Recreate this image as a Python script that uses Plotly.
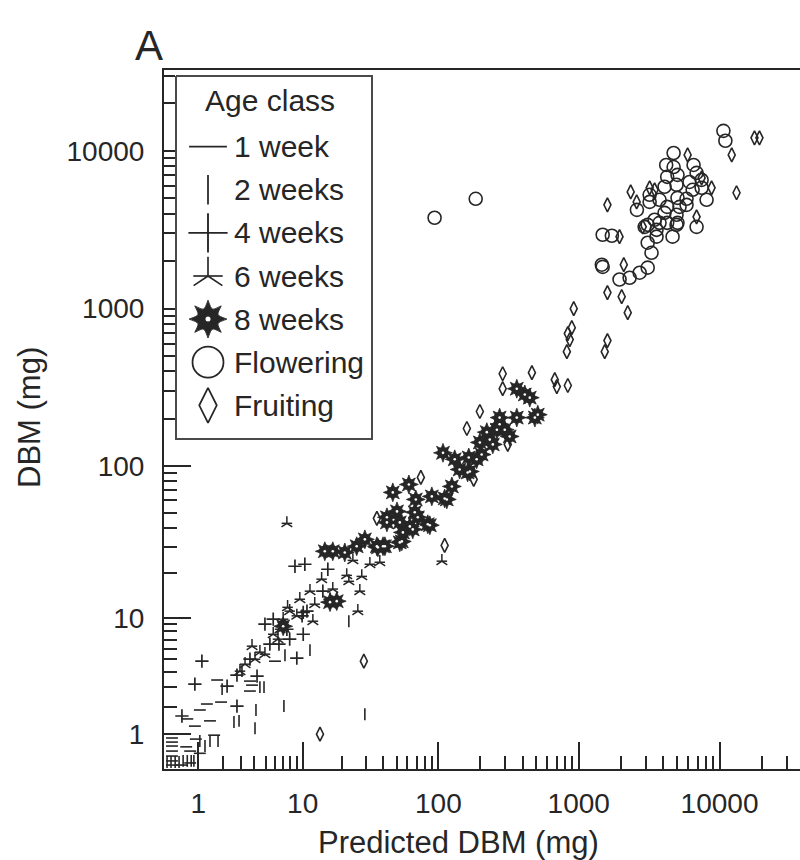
import numpy as np
import plotly.graph_objects as go

# ---------------- data: predicted vs observed dry biomass (mg) ----------------
w1_pred = [0.30, 0.30, 0.30, 0.30, 0.30, 0.30, 0.30, 0.64, 0.75, 0.92, 1.05, 0.89, 1.42,
           0.67, 1.05, 1.30, 1.90, 1.72, 3.65, 3.81, 3.65, 6.0, 0.53, 0.75, 1.59]
w1_obs = [0.90, 0.79, 0.69, 0.57, 0.46, 0.36, 0.28, 0.67, 0.57, 0.87, 0.52, 1.26, 1.44,
          1.51, 1.86, 2.12, 2.21, 3.43, 3.36, 3.11, 2.77, 4.83, 0.28, 0.32, 0.98]

w2_pred = [0.20, 0.28, 0.37, 0.46, 0.56, 0.67, 0.78, 0.86, 1.05, 1.23, 1.42, 1.76, 1.95,
           2.58, 2.89, 4.05, 4.13, 4.47, 4.85, 7.1, 7.24, 11.4, 22.4, 29.4, 3.08]
w2_obs = [0.34, 0.34, 0.34, 0.34, 0.36, 0.36, 0.36, 0.36, 0.82, 0.69, 0.82, 0.82, 2.88,
          1.40, 1.44, 1.19, 1.86, 2.99, 2.99, 2.03, 5.36, 5.85, 9.45, 1.69, 4.04]

w4_pred = [0.53, 0.89, 1.12, 2.20, 2.76, 2.76, 4.22, 4.94, 5.8, 6.47, 9.0, 9.9, 10.1,
           10.1, 10.8, 14.3, 16.2, 15.6, 8.7, 10.4, 7.5, 7.9, 5.44, 3.65]
w4_obs = [1.62, 3.17, 4.83, 3.05, 3.76, 2.03, 3.69, 9.0, 9.76, 6.47, 5.09, 10.3, 10.9,
          7.64, 11.1, 15.2, 13.4, 21.3, 22.3, 23.0, 8.29, 7.04, 6.47, 5.0]

w6_pred = [7.5, 25.6, 24.0, 21.6, 22.4, 27.9, 27.0, 26.1, 14.0, 11.4, 17.0, 7.6, 7.0,
           6.6, 9.0, 12.0, 3.81, 4.47, 4.05, 5.8, 6.35, 32.0, 37.8, 106, 4.94, 3.29,
           2.95, 9.5, 12.4, 7.9]
w6_obs = [42.6, 29.7, 24.4, 19.4, 17.7, 19.1, 15.2, 11.1, 18.3, 15.2, 15.7, 11.8, 9.76,
          8.29, 10.3, 9.45, 6.26, 5.65, 5.0, 7.64, 7.04, 23.0, 23.7, 24.1, 5.46, 4.58,
          4.04, 13.4, 12.4, 11.1]

w8_pred = [14.8, 17.0, 16.2, 18.2, 7.0, 36.6, 41.2, 54.6, 42.6, 52.8, 108, 47.0, 61.4,
           68.9, 89.8, 111, 125, 142, 168, 165, 188, 204, 233, 274, 222, 42.6, 50.4,
           67.7, 71.2, 86.9, 55.6, 62.4, 39.9, 52.8, 25.6, 363, 414, 449, 512, 363, 198,
           262, 162, 115, 84, 65.5, 36.0, 274, 488, 20.9, 29.4, 298, 323, 245, 131]
w8_obs = [28.0, 28.0, 12.8, 13.0, 8.7, 29.7, 30.2, 32.5, 43.2, 43.2, 121, 67.5, 75.9,
          60.8, 63.6, 61.7, 73.7, 94.7, 92, 113, 110, 118, 147, 184, 164, 46.6, 50.9,
          50.2, 46.6, 41.4, 37.2, 40.7, 30.2, 32.0, 30.2, 310, 285, 272, 212, 203, 141,
          170, 90.6, 60.8, 42, 38.9, 30.2, 203, 203, 27.5, 33.5, 170, 154, 137, 110]

flower_pred = [10650, 11000, 4720, 4180, 4720, 6540, 4250, 5030, 6870, 7460, 4070, 4950,
               6120, 6440, 7460, 3190, 3750, 5030, 5830, 8090, 3190, 2590, 4250, 5200,
               5830, 4070, 4950, 5030, 3460, 3750, 4250, 3090, 2940, 4950, 6870, 1480,
               1720, 3570, 4640, 3090, 3290, 3570, 1460, 1480, 2710, 3090, 2300, 1950,
               94, 185]
flower_obs = [13400, 11600, 9700, 8150, 7900, 8150, 6850, 7050, 7260, 6550, 5930, 6100,
              6360, 5670, 5840, 5270, 4900, 5040, 4970, 4900, 4750, 4230, 4420, 4420,
              4550, 4050, 3935, 3500, 3660, 3500, 3500, 3400, 3300, 3400, 3300, 2940,
              2900, 2860, 2860, 2620, 2260, 3160, 1900, 1840, 1690, 1820, 1570, 1530,
              3770, 4970]

fruit_pred = [5935, 12200, 17700, 19200, 13200, 8780, 6870, 2340, 1600, 2580, 1950, 2850,
              3190, 3460, 7460, 2090, 1600, 2020, 2230, 922, 893, 837, 864, 824, 1600,
              1531, 288, 288, 465, 676, 699, 837, 198, 160, 74.9, 179, 36.0, 111, 313,
              28.9, 13.6]
fruit_obs = [9430, 9430, 12100, 12100, 5430, 5840, 3820, 5500, 4550, 4750, 2860, 3300,
             5840, 5670, 6740, 1900, 1264, 1190, 943, 1000, 757, 694, 636, 533, 627,
             533, 386, 310, 392, 354, 320, 325, 222, 173, 84.2, 81.7, 45.9, 30.6, 137,
             4.83, 1.01]

classes = ["1 week", "2 weeks", "4 weeks", "6 weeks", "8 weeks", "Flowering", "Fruiting"]

major_ticks = [1, 10, 100, 1000, 10000]
minor_ticks = [m * 10 ** k for k in range(5) for m in range(2, 10)]

# ---------------- styling ----------------
INK = "#262626"
FONT = "Liberation Sans, Arial, Helvetica, sans-serif"
W, H = 800, 860
ML, MR, MT, MB = 164, 0, 70, 91


def plus1(a):
    # both axes are log10(DBM + 1)
    return np.asarray(a, dtype=float) + 1.0


fig = go.Figure()


def add_marks(x, y, symbol, size, width=1.6, color=INK, xaxis="x", yaxis="y"):
    fig.add_trace(go.Scatter(
        x=x, y=y, mode="markers", xaxis=xaxis, yaxis=yaxis,
        marker=dict(symbol=symbol, size=size, color=color,
                    line=dict(color=color, width=width)),
        showlegend=False, hoverinfo="skip", cliponaxis=True))


# glyph recipes per class: list of (symbol, data size, legend size, color, width)
glyphs = {
    "1 week": [("line-ew", 8.5, 27, INK, 1.6)],
    "2 weeks": [("line-ns", 8.5, 21, INK, 1.6)],
    "4 weeks": [("cross-thin", 9.5, 28, INK, 1.7)],
    "6 weeks": [("y-up", 9.0, 24, INK, 1.5), ("line-ew", 7.5, 21, INK, 1.5)],
    "8 weeks": [("star-diamond", 13.5, 27, INK, 0.8), ("star-square", 11.8, 24, INK, 0.8),
                ("circle", 2.6, 5, "white", 0)],
    "Flowering": [("circle-open", 13, 31, INK, 1.6)],
    "Fruiting": [("diamond-tall-open", 10, 25, INK, 1.6)],
}

series = {
    "1 week": (w1_pred, w1_obs),
    "2 weeks": (w2_pred, w2_obs),
    "4 weeks": (w4_pred, w4_obs),
    "6 weeks": (w6_pred, w6_obs),
    "8 weeks": (w8_pred, w8_obs),
    "Flowering": (flower_pred, flower_obs),
    "Fruiting": (fruit_pred, fruit_obs),
}

for name in classes:
    px, py = series[name]
    for sym, dsize, _, col, wid in glyphs[name]:
        add_marks(plus1(px), plus1(py), sym, dsize, wid, col)

# ---------------- legend panel (own axes, pixel-like units) ----------------
LEG_X0, LEG_X1, LEG_Y0, LEG_Y1 = 175, 373, 75, 440   # box edges in page pixels
leg_w, leg_h = LEG_X1 - LEG_X0, LEG_Y1 - LEG_Y0
plot_w, plot_h = W - ML - MR, H - MT - MB

fig.add_trace(go.Scatter(
    x=[1, leg_w - 1, leg_w - 1, 1, 1], y=[1, 1, leg_h - 1, leg_h - 1, 1],
    mode="lines", fill="toself", fillcolor="white",
    line=dict(color="#4a4a4a", width=2), xaxis="x2", yaxis="y2",
    showlegend=False, hoverinfo="skip"))

row0, row_step, glyph_x, text_x = 71.7, 43.1, 33, 57
for i, name in enumerate(classes):
    ry = row0 + i * row_step
    for sym, _, lsize, col, wid in glyphs[name]:
        add_marks([glyph_x], [ry], sym, lsize, wid * 1.1 if wid else 0, col,
                  xaxis="x2", yaxis="y2")
    fig.add_annotation(x=text_x, y=ry, xref="x2", yref="y2", text=name,
                       showarrow=False, xanchor="left", yanchor="middle",
                       font=dict(family=FONT, size=30, color=INK))
fig.add_annotation(x=95, y=25, xref="x2", yref="y2", text="Age class",
                   showarrow=False, xanchor="center", yanchor="middle",
                   font=dict(family=FONT, size=30, color=INK))

# ---------------- axes ----------------
tick_common = dict(
    type="log", ticks="inside", ticklen=27, tickwidth=1.5, tickcolor=INK,
    tickmode="array", showgrid=False, zeroline=False,
    showline=True, linecolor=INK, linewidth=2,
    tickfont=dict(family=FONT, size=28, color=INK),
    minor=dict(tickmode="array", tickvals=list(plus1(minor_ticks)), ticks="inside",
               ticklen=13, tickwidth=1.5, tickcolor=INK, showgrid=False),
    automargin=False,
)

fig.update_layout(
    width=W, height=H, margin=dict(l=ML, r=MR, t=MT, b=MB),
    paper_bgcolor="white", plot_bgcolor="white",
    xaxis=dict(**tick_common, range=[0.0574, 4.571], mirror=True,
               tickvals=list(plus1(major_ticks)), ticktext=[str(v) for v in major_ticks],
               ticklabelstandoff=8),
    yaxis=dict(**tick_common, range=[0.0823, 4.513], mirror=False,
               tickvals=list(plus1(major_ticks)), ticktext=[str(v) for v in major_ticks],
               ticklabelstandoff=12),
    xaxis2=dict(domain=[(LEG_X0 - ML) / plot_w, (LEG_X1 - ML) / plot_w],
                range=[0, leg_w], visible=False, anchor="y2"),
    yaxis2=dict(domain=[(H - MB - LEG_Y1) / plot_h, (H - MB - LEG_Y0) / plot_h],
                range=[leg_h, 0], visible=False, anchor="x2"),
    showlegend=False,
)

# axis titles and panel letter
fig.add_annotation(x=(458 - ML) / plot_w, y=(H - MB - 842) / plot_h, xref="paper",
                   yref="paper", text="Predicted DBM (mg)", showarrow=False,
                   xanchor="center", yanchor="middle",
                   font=dict(family=FONT, size=31, color=INK))
fig.add_annotation(x=(30 - ML) / plot_w, y=(H - MB - 418) / plot_h, xref="paper",
                   yref="paper", text="DBM (mg)", showarrow=False, textangle=-90,
                   xanchor="center", yanchor="middle",
                   font=dict(family=FONT, size=31, color=INK))
fig.add_annotation(x=(149 - ML) / plot_w, y=(H - MB - 45) / plot_h, xref="paper",
                   yref="paper", text="A", showarrow=False,
                   xanchor="center", yanchor="middle",
                   font=dict(family=FONT, size=42, color=INK))

fig.write_html("out.html")
